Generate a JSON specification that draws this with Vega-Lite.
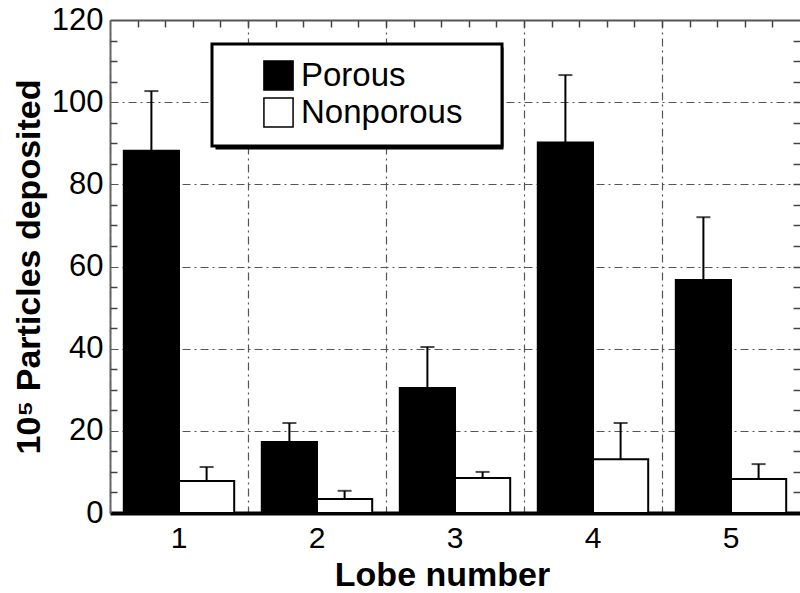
{
  "$schema": "https://vega.github.io/schema/vega-lite/v6.json",
  "width": 690,
  "height": 493,
  "autosize": {"type": "none"},
  "padding": {"left": 110, "top": 20, "right": 0, "bottom": 80},
  "background": "white",
  "config": {
    "font": "Liberation Sans",
    "view": {"stroke": null},
    "axis": {"labelColor": "black", "titleColor": "black", "labelFont": "Liberation Sans", "titleFont": "Liberation Sans"},
    "legend": {"labelFont": "Liberation Sans"}
  },
  "data": {
    "values": [
      {"lobe": 1, "type": "Porous", "value": 88.2, "upper": 102.7},
      {"lobe": 1, "type": "Nonporous", "value": 7.8, "upper": 11.2},
      {"lobe": 2, "type": "Porous", "value": 17.3, "upper": 21.9},
      {"lobe": 2, "type": "Nonporous", "value": 3.4, "upper": 5.4},
      {"lobe": 3, "type": "Porous", "value": 30.4, "upper": 40.4},
      {"lobe": 3, "type": "Nonporous", "value": 8.5, "upper": 10.0},
      {"lobe": 4, "type": "Porous", "value": 90.2, "upper": 106.6},
      {"lobe": 4, "type": "Nonporous", "value": 13.1, "upper": 21.9},
      {"lobe": 5, "type": "Porous", "value": 56.7, "upper": 72.0},
      {"lobe": 5, "type": "Nonporous", "value": 8.3, "upper": 11.9}
    ]
  },
  "resolve": {
    "scale": {"x": "independent", "xOffset": "independent"},
    "axis": {"x": "independent", "y": "independent"}
  },
  "layer": [
    {
      "mark": {"type": "bar", "stroke": "black", "strokeWidth": 2},
      "encoding": {
        "x": {
          "field": "lobe", "type": "ordinal",
          "scale": {"paddingInner": 0, "paddingOuter": 0},
          "axis": {
            "orient": "bottom", "title": "Lobe number", "labelAngle": 0,
            "labelFontSize": 30, "labelPadding": 10, "ticks": false,
            "domainColor": "black", "domainWidth": 4, "grid": false,
            "titleFontSize": 34, "titleFontWeight": "bold", "titlePadding": 5,
            "titleX": 332, "titleAlign": "center"
          }
        },
        "xOffset": {
          "field": "type", "type": "nominal", "sort": ["Porous", "Nonporous"],
          "scale": {"paddingInner": 0, "paddingOuter": 0.25}
        },
        "y": {
          "field": "value", "type": "quantitative",
          "scale": {"domain": [0, 120], "nice": false},
          "axis": {
            "orient": "left", "values": [0, 20, 40, 60, 80, 100, 120],
            "title": "10⁵ Particles deposited", "titleFontSize": 34, "titleFontWeight": "bold",
            "titlePadding": 5, "labelFontSize": 31, "labelPadding": 7, "tickSize": 0,
            "domainColor": "#666", "domainWidth": 2,
            "grid": true, "gridDash": [8, 4, 2, 4], "gridColor": "#555", "gridWidth": 1.2
          }
        },
        "fill": {
          "field": "type", "type": "nominal",
          "scale": {"domain": ["Porous", "Nonporous"], "range": ["black", "white"]},
          "legend": {
            "orient": "none", "legendX": 102, "legendY": 24, "title": null, "zindex": 2,
            "fillColor": "white", "strokeColor": "black",
            "padding": 15, "symbolType": "square", "symbolSize": 850,
            "symbolStrokeColor": "black", "symbolStrokeWidth": 1.5, "symbolOffset": 35,
            "labelFontSize": 33, "labelColor": "black", "labelOffset": 6, "rowPadding": 0,
            "labelLimit": 400,
            "labelExpr": "datum.label + '\u2800'",
            "encode": {"legend": {"update": {"strokeWidth": {"value": 3}}}}
          }
        }
      }
    },
    {
      "mark": {"type": "rule", "strokeWidth": 2},
      "encoding": {
        "x": {
          "field": "lobe", "type": "ordinal",
          "scale": {"paddingInner": 0, "paddingOuter": 0},
          "axis": {
            "orient": "bottom", "bandPosition": 0, "labels": false, "ticks": false,
            "domain": false, "grid": true, "gridDash": [8, 4, 2, 4], "gridColor": "#555",
            "gridWidth": 1.2, "title": null
          }
        },
        "xOffset": {
          "field": "type", "type": "nominal", "sort": ["Porous", "Nonporous"],
          "scale": {"paddingInner": 0, "paddingOuter": 0.25}
        },
        "y": {
          "field": "value", "type": "quantitative",
          "scale": {"domain": [0, 120], "nice": false},
          "axis": {
            "orient": "left", "values": [5, 10, 15, 25, 30, 35, 45, 50, 55, 65, 70, 75, 85, 90, 95, 105, 110, 115],
            "labels": false, "domain": false, "tickSize": -7, "tickColor": "#444", "tickWidth": 1.5,
            "title": null, "grid": false
          }
        },
        "y2": {"field": "upper"},
        "color": {
          "field": "type", "type": "nominal",
          "scale": {"range": ["black", "black"]},
          "legend": {
            "orient": "none", "legendX": 107, "legendY": 29, "title": null, "zindex": 0,
            "fillColor": "black", "strokeColor": "black",
            "padding": 15, "symbolType": "square", "symbolSize": 961,
            "symbolStrokeColor": "black", "symbolFillColor": "black", "symbolStrokeWidth": 1, "symbolOffset": 221,
            "labelFontSize": 33, "labelColor": "black", "labelOffset": 0, "rowPadding": 0,
            "labelExpr": "''",
            "encode": {"legend": {"update": {"strokeWidth": {"value": 3}}}}
          }
        }
      }
    },
    {
      "mark": {"type": "tick", "thickness": 2, "size": 14, "color": "black", "orient": "horizontal"},
      "encoding": {
        "x": {
          "field": "lobe", "type": "ordinal",
          "scale": {"paddingInner": 0, "paddingOuter": 0},
          "axis": null
        },
        "xOffset": {
          "field": "type", "type": "nominal", "sort": ["Porous", "Nonporous"],
          "scale": {"paddingInner": 0, "paddingOuter": 0.25}
        },
        "y": {
          "field": "upper", "type": "quantitative",
          "scale": {"domain": [0, 120], "nice": false},
          "axis": {
            "orient": "right", "values": [5, 10, 15, 20, 25, 30, 35, 40, 45, 50, 55, 60, 65, 70, 75, 80, 85, 90, 95, 100, 105, 110, 115],
            "labels": false, "domain": false, "tickSize": -7, "tickColor": "#444", "tickWidth": 1.5,
            "title": null, "grid": false
          }
        }
      }
    },
    {
      "mark": {"type": "point", "opacity": 0},
      "encoding": {
        "x": {
          "field": "lobe", "type": "quantitative",
          "scale": {"domain": [0.5, 5.5], "nice": false, "zero": false},
          "axis": {
            "orient": "top", "values": [0.7, 0.9, 1.1, 1.3, 1.5, 1.7, 1.9, 2.1, 2.3, 2.5, 2.7, 2.9, 3.1, 3.3, 3.5, 3.7, 3.9, 4.1, 4.3, 4.5, 4.7, 4.9, 5.1, 5.3],
            "labels": false, "tickSize": -7, "tickColor": "#444", "tickWidth": 1.5,
            "domainColor": "#555", "domainWidth": 2, "title": null, "grid": false
          }
        },
        "y": {
          "field": "value", "type": "quantitative",
          "scale": {"domain": [0, 120], "nice": false},
          "axis": null
        }
      }
    }
  ]
}
